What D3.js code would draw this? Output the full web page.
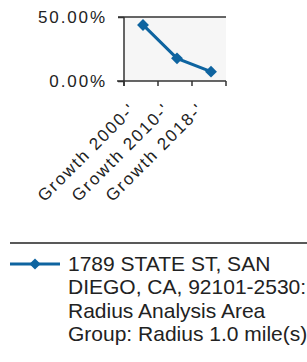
<!DOCTYPE html>
<html>
<head>
<meta charset="utf-8">
<script src="https://cdn.jsdelivr.net/npm/d3@7"></script>
<style>
  body { margin: 0; background: #fff; }
  svg { display: block; font-family: "Liberation Sans", Arial, sans-serif; }
</style>
</head>
<body>
<svg id="chart"></svg>
<script>
// Data
const categories = ["Growth 2000-'", "Growth 2010-'", "Growth 2018-'"];
const growth = [43.8, 17.7, 7.3];
const yTicks = [0, 50];
const legendLines = ["1789 STATE ST, SAN", "DIEGO, CA, 92101-2530:", "Radius Analysis Area", "Group: Radius 1.0 mile(s)"];

const width = 307, height = 362;
const plot = {left: 124, right: 226, top: 17, bottom: 81};
const blue = "#0e64a0";

const svg = d3.select("#chart")
  .attr("width", width)
  .attr("height", height);

// x and y scales
const x = d3.scaleBand()
  .domain(categories)
  .range([plot.left, plot.right]);

const y = d3.scaleLinear()
  .domain([0, 50])
  .range([plot.bottom, plot.top]);

// plot background
svg.append("rect")
  .attr("x", plot.left)
  .attr("y", plot.top)
  .attr("width", plot.right - plot.left)
  .attr("height", plot.bottom - plot.top)
  .attr("fill", "#f6f6f6");

// top gridline at 50%
svg.append("line")
  .attr("x1", plot.left - 6).attr("x2", plot.right)
  .attr("y1", y(50)).attr("y2", y(50))
  .attr("stroke", "#333").attr("stroke-width", 1.5);

// y axis
const yAxis = svg.append("g")
  .attr("transform", `translate(${plot.left},0)`)
  .call(d3.axisLeft(y).tickValues(yTicks).tickSize(6).tickFormat(d => d3.format(".2f")(d) + "%"));
yAxis.select(".domain").remove();
yAxis.append("line")
  .attr("y1", plot.top).attr("y2", plot.bottom + 5)
  .attr("stroke", "#333").attr("stroke-width", 1.5);
yAxis.selectAll(".tick line").attr("stroke", "#333").attr("stroke-width", 1.5);
yAxis.selectAll(".tick text")
  .attr("x", -17)
  .attr("fill", "#222")
  .style("font-size", "17px")
  .style("letter-spacing", "1.9px")
  .style("font-family", "Liberation Sans, Arial, sans-serif");

// x axis
const xAxis = svg.append("g")
  .attr("transform", `translate(0,${plot.bottom})`)
  .call(d3.axisBottom(x).tickSize(0).tickFormat(""));
xAxis.select(".domain").remove();
xAxis.append("line")
  .attr("x1", plot.left - 7).attr("x2", plot.right)
  .attr("stroke", "#333").attr("stroke-width", 1.5);
// tick marks on band edges
const edges = categories.map(c => x(c)).concat([plot.right]);
xAxis.selectAll(".edge")
  .data(edges)
  .join("line")
  .attr("x1", d => d).attr("x2", d => d)
  .attr("y1", 0).attr("y2", 5)
  .attr("stroke", "#333").attr("stroke-width", 1.5);

// rotated category labels
svg.selectAll(".xlabel")
  .data(categories)
  .join("text")
  .attr("transform", d => `translate(${x(d) + x.bandwidth() / 2 - 4},${plot.bottom + 29}) rotate(-45)`)
  .attr("text-anchor", "end")
  .attr("fill", "#222")
  .style("font-size", "17px")
  .style("letter-spacing", "1.9px")
  .text(d => d);

// series line
const line = d3.line()
  .x((d, i) => x(categories[i]) + x.bandwidth() / 2 + 2)
  .y(d => y(d));

svg.append("path")
  .datum(growth)
  .attr("d", line)
  .attr("fill", "none")
  .attr("stroke", blue)
  .attr("stroke-width", 3);

svg.selectAll(".pt")
  .data(growth)
  .join("path")
  .attr("d", d3.symbol(d3.symbolDiamond2, 90))
  .attr("transform", (d, i) => `translate(${x(categories[i]) + x.bandwidth() / 2 + 2},${y(d)})`)
  .attr("fill", blue);

// legend separator
svg.append("line")
  .attr("x1", 10).attr("x2", width)
  .attr("y1", 243).attr("y2", 243)
  .attr("stroke", "#222").attr("stroke-width", 1.5);

// legend sample
svg.append("line")
  .attr("x1", 10).attr("x2", 60)
  .attr("y1", 264).attr("y2", 264)
  .attr("stroke", blue).attr("stroke-width", 3);
svg.append("path")
  .attr("d", d3.symbol(d3.symbolDiamond2, 80))
  .attr("transform", "translate(35,264)")
  .attr("fill", blue);

svg.append("g")
  .selectAll("text")
  .data(legendLines)
  .join("text")
  .attr("x", 68)
  .attr("y", (d, i) => 271 + i * 23.3)
  .attr("fill", "#222")
  .style("font-size", "21px")
  .text(d => d);
</script>
</body>
</html>
